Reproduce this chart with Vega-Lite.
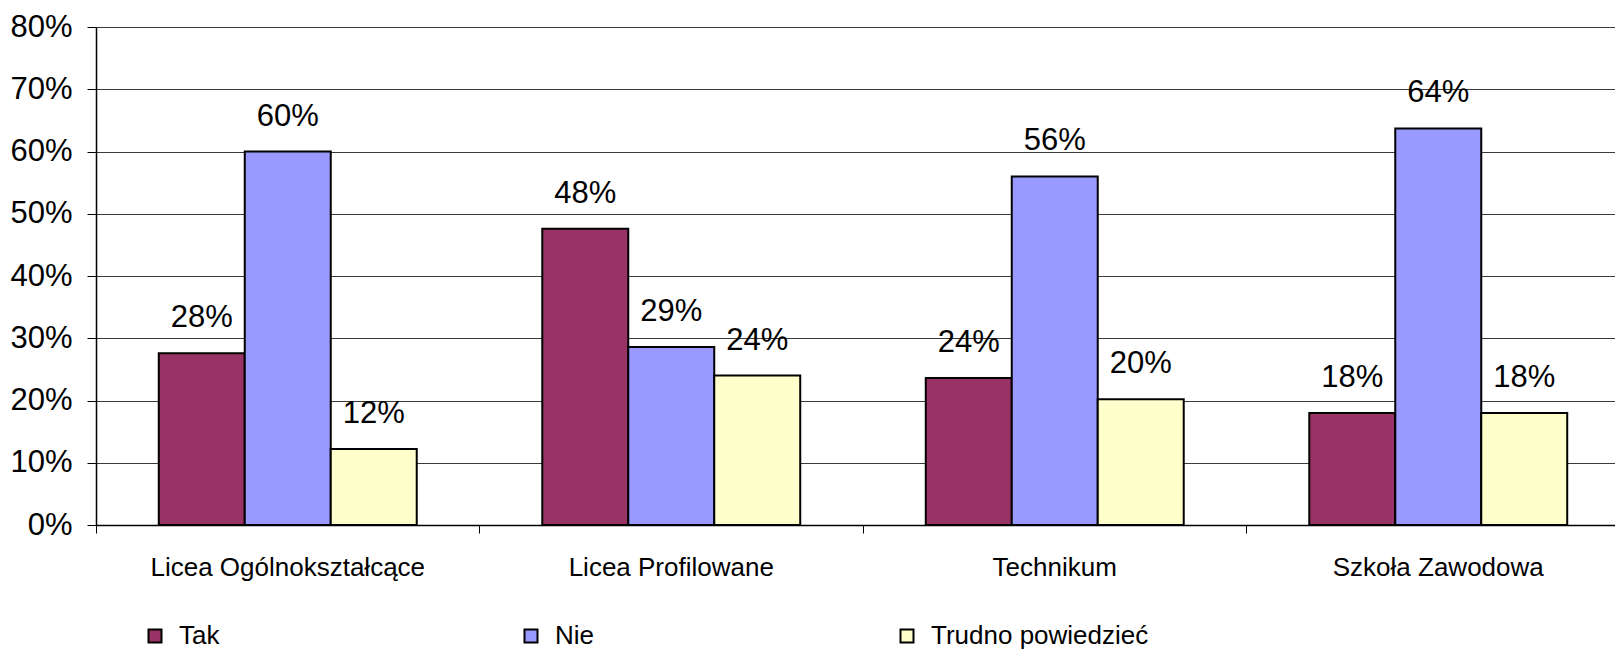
{
  "$schema": "https://vega.github.io/schema/vega-lite/v6.json",
  "width": 1519,
  "height": 498,
  "autosize": {"type": "none"},
  "padding": {"left": 96, "top": 27, "right": 0, "bottom": 125},
  "background": "white",
  "data": {
    "values": [
      {"szkola": "Licea Ogólnokształcące", "odp": "Tak", "v": 0.276},
      {"szkola": "Licea Ogólnokształcące", "odp": "Nie", "v": 0.600},
      {"szkola": "Licea Ogólnokształcące", "odp": "Trudno powiedzieć", "v": 0.122},
      {"szkola": "Licea Profilowane", "odp": "Tak", "v": 0.476},
      {"szkola": "Licea Profilowane", "odp": "Nie", "v": 0.286},
      {"szkola": "Licea Profilowane", "odp": "Trudno powiedzieć", "v": 0.240},
      {"szkola": "Technikum", "odp": "Tak", "v": 0.236},
      {"szkola": "Technikum", "odp": "Nie", "v": 0.560},
      {"szkola": "Technikum", "odp": "Trudno powiedzieć", "v": 0.202},
      {"szkola": "Szkoła Zawodowa", "odp": "Tak", "v": 0.180},
      {"szkola": "Szkoła Zawodowa", "odp": "Nie", "v": 0.637},
      {"szkola": "Szkoła Zawodowa", "odp": "Trudno powiedzieć", "v": 0.180}
    ]
  },
  "encoding": {
    "x": {
      "field": "szkola",
      "type": "nominal",
      "sort": ["Licea Ogólnokształcące", "Licea Profilowane", "Technikum", "Szkoła Zawodowa"],
      "scale": {"range": [0, 1534], "paddingInner": 0, "paddingOuter": 0},
      "axis": {
        "title": null,
        "labelAngle": 0,
        "labelLimit": 0,
        "labelFont": "Liberation Sans",
        "labelFontSize": 26,
        "labelColor": "black",
        "labelPadding": 21,
        "tickSize": 8,
        "tickColor": "black",
        "domainColor": "black",
        "domainWidth": 1.5,
        "bandPosition": 0,
        "grid": false
      }
    },
    "xOffset": {
      "field": "odp",
      "type": "nominal",
      "sort": ["Tak", "Nie", "Trudno powiedzieć"],
      "scale": {"paddingInner": 0, "paddingOuter": 0.73}
    },
    "y": {
      "field": "v",
      "type": "quantitative",
      "scale": {"domain": [0, 0.8], "nice": false},
      "axis": {
        "title": null,
        "format": ".0%",
        "values": [0, 0.1, 0.2, 0.3, 0.4, 0.5, 0.6, 0.7, 0.8],
        "labelFont": "Liberation Sans",
        "labelFontSize": 31,
        "labelColor": "black",
        "labelPadding": 15,
        "tickSize": 9,
        "tickColor": "black",
        "domainColor": "black",
        "domainWidth": 1.5,
        "grid": true,
        "gridColor": "#3a3a3a",
        "gridWidth": 1
      }
    }
  },
  "layer": [
    {
      "mark": {"type": "bar", "stroke": "black", "strokeWidth": 2},
      "encoding": {
        "color": {
          "field": "odp",
          "type": "nominal",
          "sort": ["Tak", "Nie", "Trudno powiedzieć"],
          "scale": {
            "domain": ["Tak", "Nie", "Trudno powiedzieć"],
            "range": ["#993366", "#9999FF", "#FFFFCC"]
          },
          "legend": {
            "title": null,
            "orient": "none",
            "legendX": 46,
            "legendY": 596,
            "direction": "horizontal",
            "columns": 3,
            "gridAlign": "all",
            "columnPadding": 121,
            "padding": 0,
            "symbolType": "square",
            "symbolSize": 169,
            "symbolStrokeColor": "black",
            "symbolStrokeWidth": 2,
            "symbolOpacity": 1,
            "labelFont": "Liberation Sans",
            "labelFontSize": 26,
            "labelLimit": 0,
            "labelColor": "black",
            "labelOffset": 11
          }
        }
      }
    },
    {
      "mark": {"type": "text", "dy": -26, "baseline": "alphabetic", "fontSize": 31, "font": "Liberation Sans", "color": "black"},
      "encoding": {
        "text": {"field": "v", "type": "quantitative", "format": ".0%"}
      }
    }
  ],
  "config": {"view": {"stroke": null}}
}
